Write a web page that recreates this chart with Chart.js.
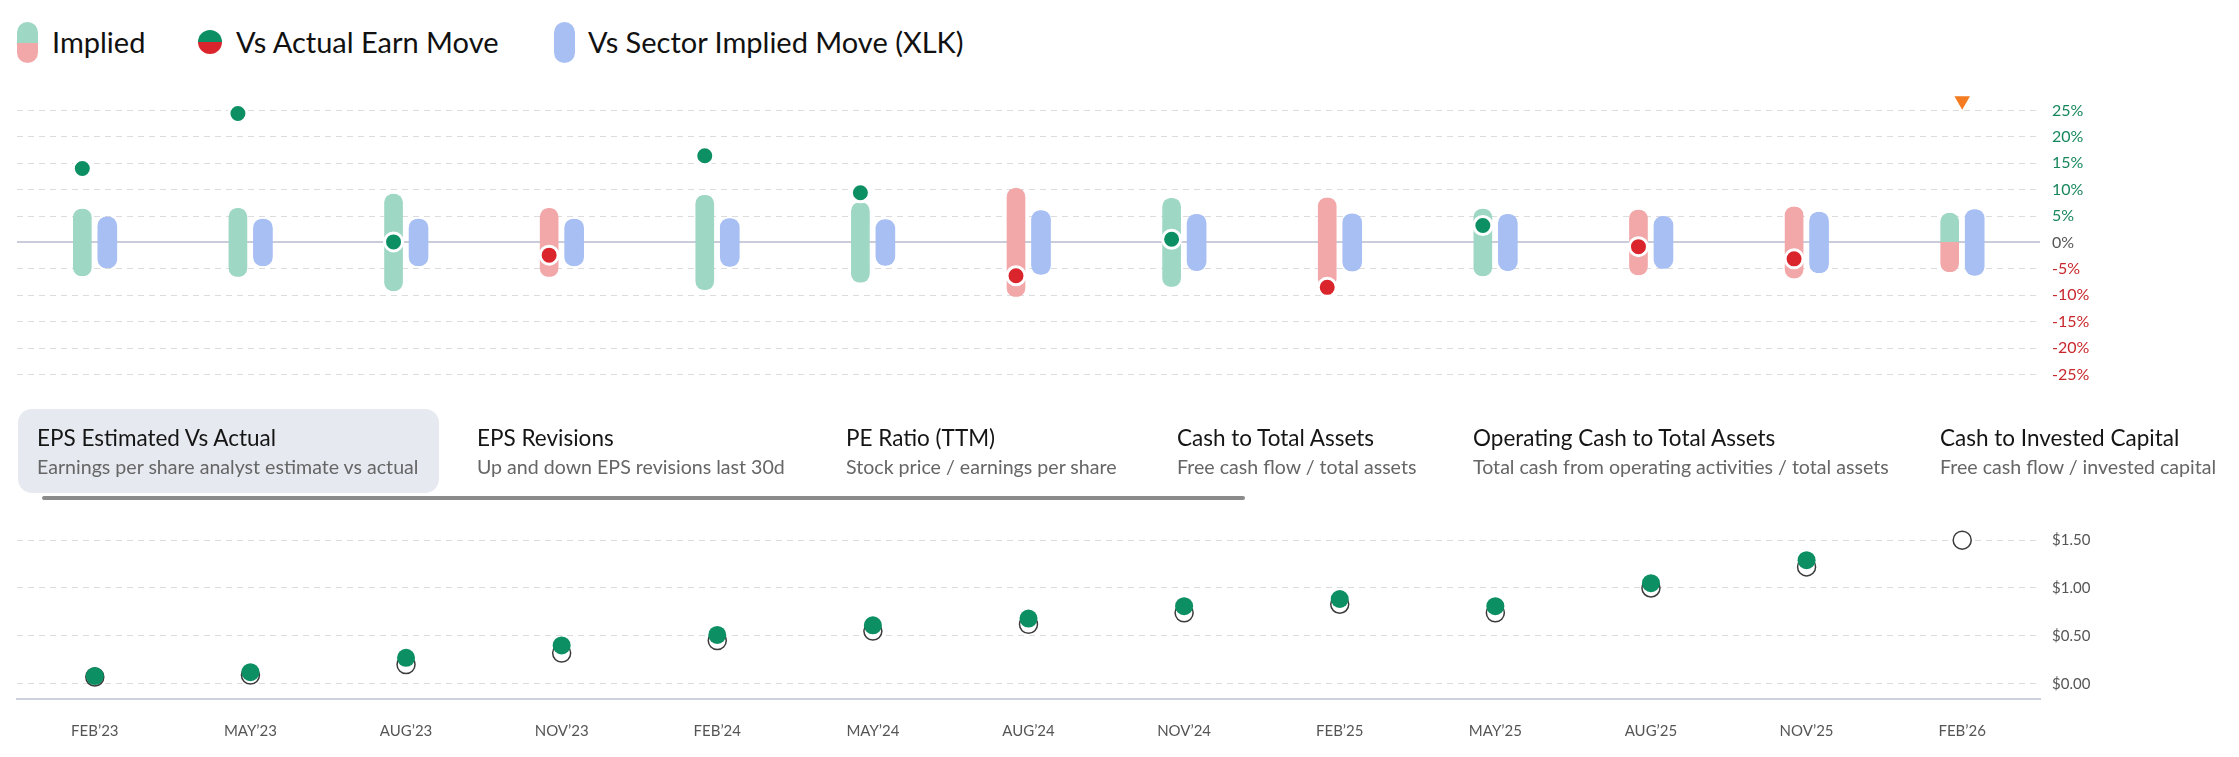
<!DOCTYPE html>
<html>
<head>
<meta charset="utf-8">
<script src="https://cdn.jsdelivr.net/npm/chart.js@4.4.1/dist/chart.umd.min.js"></script>
<style>
  body { margin: 0; width: 2239px; height: 757px; background: #fff; position: relative; overflow: hidden;
         font-family: Lato, "Open Sans", sans-serif; color: #111; }
  .abs { position: absolute; }
  .lg-text { position: absolute; top: 24px; font-size: 29px; line-height: 36px; color: #111; white-space: nowrap; }
  .pill { position: absolute; top: 22px; width: 21px; height: 41px; border-radius: 11px; }
  .tab { position: absolute; top: 424px; white-space: nowrap; }
  .tab .t { font-size: 22.5px; line-height: 28px; color: #151515; }
  .tab .s { font-size: 19.6px; line-height: 29px; color: #666; }
  #topChart { position: absolute; left: 0; top: 70px; }
  #epsChart { position: absolute; left: 0; top: 500px; }
</style>
</head>
<body>

<!-- legend -->
<div class="pill" style="left:17px; background:linear-gradient(to bottom,#9ed7c3 0,#9ed7c3 50%,#f2a8a9 50%,#f2a8a9 100%);"></div>
<div class="lg-text" style="left:52px;">Implied</div>
<div class="abs" style="left:198px; top:30px; width:24px; height:24px; border-radius:50%; background:linear-gradient(to bottom,#0b8f63 0,#0b8f63 50%,#d9252b 50%,#d9252b 100%);"></div>
<div class="lg-text" style="left:236px;">Vs Actual Earn Move</div>
<div class="pill" style="left:554px; background:#a8bff4;"></div>
<div class="lg-text" style="left:588px;">Vs Sector Implied Move (XLK)</div>

<canvas id="topChart" width="2239" height="342"></canvas>

<!-- metric tabs -->
<div class="abs" style="left:18px; top:409px; width:421px; height:84px; border-radius:14px; background:#e6eaf0;"></div>
<div class="tab" style="left:37px;"><div class="t">EPS Estimated Vs Actual</div><div class="s">Earnings per share analyst estimate vs actual</div></div>
<div class="tab" style="left:477px;"><div class="t">EPS Revisions</div><div class="s">Up and down EPS revisions last 30d</div></div>
<div class="tab" style="left:846px;"><div class="t">PE Ratio (TTM)</div><div class="s">Stock price / earnings per share</div></div>
<div class="tab" style="left:1177px;"><div class="t">Cash to Total Assets</div><div class="s">Free cash flow / total assets</div></div>
<div class="tab" style="left:1473px;"><div class="t">Operating Cash to Total Assets</div><div class="s">Total cash from operating activities / total assets</div></div>
<div class="tab" style="left:1940px;"><div class="t">Cash to Invested Capital</div><div class="s">Free cash flow / invested capital</div></div>
<div class="abs" style="left:42px; top:496px; width:1203px; height:4px; border-radius:2px; background:#8b8b8b;"></div>

<canvas id="epsChart" width="2239" height="257"></canvas>

<script>
// quarters shown on both charts
const quarters = ['FEB’23', 'MAY’23', 'AUG’23', 'NOV’23', 'FEB’24', 'MAY’24', 'AUG’24',
                  'NOV’24', 'FEB’25', 'MAY’25', 'AUG’25', 'NOV’25', 'FEB’26'];

// earnings move chart (%), implied moves are +/- around zero
const impliedMove = [6.4, 6.5, 9.2, 6.5, 9.0, 7.6, 10.3, 8.4, 8.5, 6.4, 6.2, 6.8, 5.6];
const sectorMove  = [4.9, 4.5, 4.5, 4.5, 4.6, 4.4, 6.1, 5.4, 5.5, 5.4, 5.0, 5.8, 6.3];
const actualMove  = [14.0, 24.4, 0.1, -2.4, 16.4, 9.4, -6.3, 0.6, -8.5, 3.2, -0.8, -3.1, null];
const nextEarnings = [null, null, null, null, null, null, null, null, null, null, null, null, 26.8];
const moveTicks = [-25, -20, -15, -10, -5, 0, 5, 10, 15, 20, 25];

// EPS chart ($)
const epsActual   = [0.08, 0.12, 0.27, 0.40, 0.51, 0.61, 0.68, 0.81, 0.885, 0.81, 1.05, 1.29, null];
const epsEstimate = [0.07, 0.09, 0.20, 0.32, 0.45, 0.55, 0.62, 0.74, 0.83, 0.74, 1.00, 1.22, 1.50];
const epsTicks = [0, 0.5, 1, 1.5];

const GREEN = '#0b8f63', RED = '#d9252b', ORANGE = '#f47b20';
const GREEN_SOFT = '#9ed7c3', RED_SOFT = '#f2a8a9', BLUE_SOFT = '#a8bff4';
const FONT = 'Lato, "Open Sans", sans-serif';
const CLEAR = 'rgba(0,0,0,0)';

function impliedColor(ctx) {
  const i = ctx.dataIndex;
  const a = actualMove[i];
  if (a !== null && a !== undefined) return a >= 0 ? GREEN_SOFT : RED_SOFT;
  // no result yet: green above zero, red below
  const chart = ctx.chart;
  const y = chart.scales.y;
  if (!y) return GREEN_SOFT;
  const top = y.getPixelForValue(impliedMove[i]);
  const bot = y.getPixelForValue(-impliedMove[i]);
  const mid = (y.getPixelForValue(0) - top) / (bot - top);
  const g = chart.ctx.createLinearGradient(0, top, 0, bot);
  g.addColorStop(0, GREEN_SOFT);
  g.addColorStop(mid, GREEN_SOFT);
  g.addColorStop(mid, RED_SOFT);
  g.addColorStop(1, RED_SOFT);
  return g;
}

// the actual-move dot sits on the implied bar, not in the middle of the group
const dotsOnImplied = {
  id: 'dotsOnImplied',
  afterDatasetsUpdate(chart) {
    const bars = chart.getDatasetMeta(2).data;
    chart.getDatasetMeta(0).data.forEach((pt, i) => {
      if (bars[i]) pt.x = bars[i].x;
    });
  }
};

new Chart(document.getElementById('topChart'), {
  type: 'bar',
  data: {
    labels: quarters,
    datasets: [
      {
        type: 'line', label: 'Vs Actual Earn Move', data: actualMove,
        showLine: false, clip: false, order: 0,
        pointRadius: 9, pointHoverRadius: 9, pointBorderWidth: 3, pointBorderColor: '#fff',
        pointBackgroundColor: ctx => (ctx.raw !== null && ctx.raw < 0) ? RED : GREEN
      },
      {
        type: 'line', label: 'Next', data: nextEarnings,
        showLine: false, clip: false, order: 1,
        pointStyle: 'triangle', rotation: 180, pointRadius: 9, pointBorderWidth: 0,
        pointBackgroundColor: ORANGE
      },
      {
        label: 'Implied', data: impliedMove.map(v => [-v, v]), order: 2,
        backgroundColor: impliedColor, borderColor: CLEAR,
        borderWidth: { left: 3.5, right: 3.5, top: 0, bottom: 0 },
        borderRadius: 20, borderSkipped: false, barThickness: 25
      },
      {
        label: 'Vs Sector Implied Move (XLK)', data: sectorMove.map(v => [-v, v]), order: 2,
        backgroundColor: BLUE_SOFT, borderColor: CLEAR,
        borderWidth: { left: 3, right: 3, top: 0, bottom: 0 },
        borderRadius: 20, borderSkipped: false, barThickness: 25
      }
    ]
  },
  options: {
    responsive: false,
    animation: false,
    layout: { padding: { left: 17, top: 24.5, bottom: 0, right: 0 } },
    plugins: { legend: { display: false }, tooltip: { enabled: false } },
    scales: {
      x: { type: 'category', offset: true, display: false },
      y: {
        position: 'right', min: -28, max: 28,
        afterBuildTicks: s => { s.ticks = moveTicks.map(v => ({ value: v })); },
        afterFit: s => { s.width = 199; },
        grid: {
          drawTicks: false,
          color: ctx => ctx.tick.value === 0 ? '#c9ccda' : '#dcdcdc',
          lineWidth: ctx => ctx.tick.value === 0 ? 2 : 1
        },
        border: { display: false, dash: ctx => (ctx.tick && ctx.tick.value === 0) ? [] : [6, 5] },
        ticks: {
          padding: 12,
          font: { family: FONT, size: 16 },
          color: ctx => ctx.tick.value > 0 ? '#17875b' : (ctx.tick.value < 0 ? '#c8282d' : '#555'),
          callback: v => v + '%'
        }
      }
    }
  },
  plugins: [dotsOnImplied]
});

new Chart(document.getElementById('epsChart'), {
  type: 'line',
  data: {
    labels: quarters,
    datasets: [
      {
        label: 'Actual', data: epsActual, showLine: false, clip: false, order: 0,
        pointRadius: 9, pointHoverRadius: 9, pointBorderWidth: 0,
        pointBackgroundColor: GREEN
      },
      {
        label: 'Estimate', data: epsEstimate, showLine: false, clip: false, order: 1,
        pointRadius: 9, pointHoverRadius: 9, pointBorderWidth: 1.5,
        pointBackgroundColor: '#fff', pointBorderColor: '#3b3b3b'
      }
    ]
  },
  options: {
    responsive: false,
    animation: false,
    layout: { padding: { left: 17, top: 21, bottom: 0, right: 0 } },
    plugins: { legend: { display: false }, tooltip: { enabled: false } },
    scales: {
      x: {
        offset: true,
        afterFit: s => { s.height = 58; },
        grid: { display: false },
        border: { display: true, color: '#cdd0de', width: 2 },
        ticks: { padding: 15, font: { family: FONT, size: 15 }, color: '#555', maxRotation: 0 }
      },
      y: {
        position: 'right', min: -0.16, max: 1.7,
        afterBuildTicks: s => { s.ticks = epsTicks.map(v => ({ value: v })); },
        afterFit: s => { s.width = 199; },
        grid: { drawTicks: false, color: '#dcdcdc' },
        border: { display: false, dash: [6, 5] },
        ticks: {
          padding: 12,
          font: { family: FONT, size: 15 }, color: '#555',
          callback: v => '$' + v.toFixed(2)
        }
      }
    }
  }
});
</script>
</body>
</html>
